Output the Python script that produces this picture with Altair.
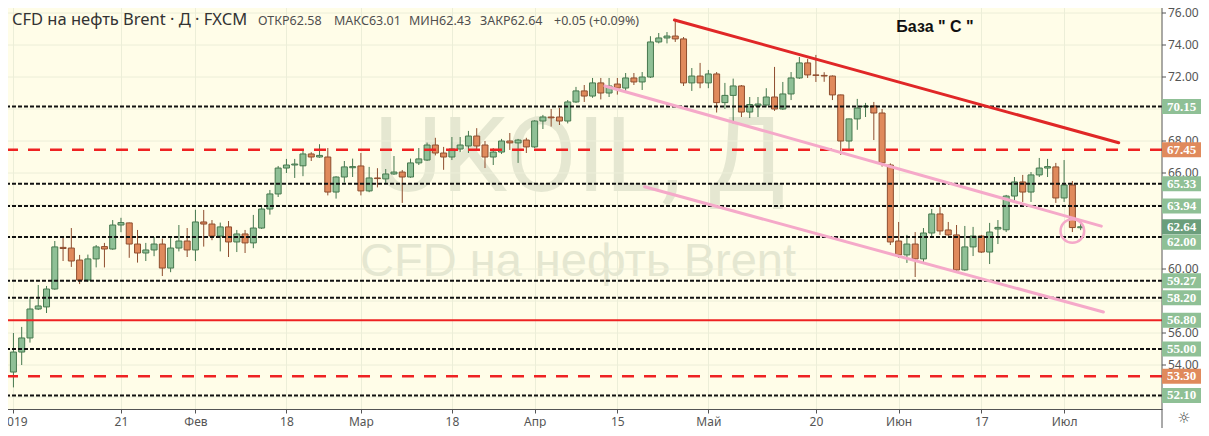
import altair as alt
import pandas as pd

# ---------------- data ----------------
opens = [53.56, 54.81, 55.69, 57.5, 57.63, 58.75, 61.35, 61.31, 60.56, 59.31, 60.63, 61.4, 61.25, 62.75, 62.88, 61.56, 61.0, 61.19, 61.56, 60.06, 61.31, 61.75,
         61.19, 62.94, 62.81, 62.06, 62.63, 61.69, 62.19, 61.63, 62.56, 63.75, 64.69, 66.31, 66.5, 66.45, 67.19, 67.0, 67.0, 64.81, 65.75, 66.33,
         66.44, 64.88, 65.69, 65.63, 65.94, 66.06, 65.75, 66.63, 66.81, 67.75, 67.25, 67.0, 67.5, 67.69, 68.31, 67.75, 67.0, 67.31, 68.0, 67.88, 68.06,
         67.63, 69.25, 69.5, 69.5, 69.25, 70.44, 71.13, 70.81, 71.63, 71.0, 71.56, 71.31, 71.94, 71.69, 72.0, 74.19, 74.44, 74.56, 74.38, 71.63, 72.06,
         71.63, 72.19, 70.4, 70.85, 71.44, 69.81, 70.19, 70.25, 70.75, 70.0, 70.94, 71.94, 72.88, 72.13, 72.1, 72.06, 70.88, 68.0, 69.38, 70.13, 70.19, 69.75, 66.5,
         61.75, 60.88, 61.56, 60.63, 62.25, 63.44, 62.44, 62.13, 59.94, 61.38, 62.06, 61.06, 62.5, 62.45, 64.56, 65.44, 64.81, 65.88, 66.31, 66.38,
         64.44, 65.25, 62.58]
highs = [56.0, 56.38, 58.25, 59.0, 58.94, 61.75, 62.0, 62.56, 60.88, 60.9, 61.5, 61.63, 63.06, 63.2, 62.9, 62.44, 61.63, 62.0, 61.9, 61.94, 62.75, 62.56,
         63.7, 63.69, 63.06, 62.9, 63.0, 62.44, 62.44, 63.38, 63.94, 64.94, 66.44, 66.88, 66.88, 67.44, 67.3, 67.8, 67.56, 65.8, 66.75, 66.9,
         67.25, 66.38, 66.3, 66.25, 67.06, 66.19, 66.9, 67.56, 67.9, 68.2, 67.63, 68.25, 68.25, 68.63, 68.8, 68.0, 67.56, 68.13, 68.5, 68.13, 68.2,
         69.3, 69.63, 70.0, 70.06, 70.56, 71.38, 71.5, 71.94, 71.94, 71.94, 71.94, 72.25, 72.25, 72.31, 74.55, 74.75, 74.81, 75.56, 74.5, 72.56, 72.88,
         72.44, 72.31, 71.63, 71.9, 71.5, 70.75, 70.75, 71.3, 72.63, 71.69, 72.31, 73.25, 73.13, 73.38, 72.3, 72.1, 70.9, 69.4, 70.63, 70.38, 70.44, 70.0, 66.6,
         62.94, 62.13, 62.31, 62.56, 63.75, 63.88, 62.94, 62.75, 62.69, 62.63, 62.13, 62.88, 63.06, 64.63, 65.75, 65.88, 66.06, 66.94, 66.88, 66.63,
         66.81, 65.5, 63.01]
lows = [52.6, 54.0, 55.4, 57.44, 57.25, 58.7, 60.5, 60.13, 59.06, 59.2, 60.1, 60.1, 61.2, 62.3, 60.7, 60.4, 60.5, 60.8, 59.56, 59.8, 61.1, 60.75,
        60.5, 61.4, 61.8, 61.1, 60.75, 61.06, 61.0, 61.3, 62.5, 63.4, 64.5, 66.0, 65.69, 65.8, 66.75, 66.95, 64.6, 64.4, 65.4, 65.75,
        64.6, 64.8, 65.1, 65.3, 65.88, 64.13, 65.7, 66.5, 66.75, 67.1, 66.2, 66.81, 67.3, 67.25, 67.5, 66.31, 66.5, 67.19, 67.44, 66.63, 67.25,
        67.56, 68.75, 68.9, 69.0, 69.1, 70.38, 70.44, 70.7, 70.6, 70.75, 70.9, 71.0, 71.5, 71.19, 71.94, 74.1, 74.1, 74.19, 71.44, 71.13, 71.3,
        71.3, 69.78, 70.0, 69.1, 69.5, 69.44, 69.5, 70.1, 69.88, 69.94, 70.56, 71.88, 71.94, 71.69, 71.7, 70.56, 67.13, 67.44, 68.7, 69.5, 68.06, 66.4, 61.5,
        60.69, 60.38, 59.5, 60.44, 61.94, 62.13, 62.06, 59.88, 59.88, 60.81, 61.0, 60.31, 61.56, 62.31, 64.25, 64.19, 64.19, 65.75, 65.75, 64.13,
        64.19, 62.31, 62.43]
closes = [54.81, 55.69, 57.5, 57.69, 58.75, 61.38, 61.28, 60.5, 59.31, 60.63, 61.38, 61.25, 62.75, 62.9, 61.56, 61.0, 61.19, 61.56, 60.06, 61.31, 61.75, 61.19,
          62.94, 62.81, 62.06, 62.63, 61.69, 62.19, 61.63, 62.56, 63.75, 64.69, 66.31, 66.5, 66.56, 67.19, 67.0, 67.1, 64.81, 65.75, 66.38, 66.4,
          64.88, 65.69, 65.65, 65.94, 66.06, 65.75, 66.63, 66.88, 67.75, 67.25, 67.0, 67.5, 67.75, 68.31, 67.69, 67.0, 67.31, 68.0, 67.88, 68.06, 67.63,
          69.25, 69.5, 69.45, 69.25, 70.44, 71.13, 70.81, 71.63, 71.0, 71.44, 71.31, 71.94, 71.69, 72.0, 74.19, 74.44, 74.56, 74.38, 71.63, 72.06, 71.63,
          72.19, 70.4, 70.85, 71.44, 69.81, 70.28, 70.31, 70.75, 70.0, 70.94, 71.94, 72.88, 72.13, 72.1, 72.06, 70.88, 68.0, 69.38, 70.06, 70.19, 69.75, 66.63, 61.69,
          60.88, 61.56, 60.63, 62.25, 63.44, 62.38, 62.13, 59.94, 61.38, 62.06, 61.06, 62.31, 62.6, 64.56, 65.44, 64.81, 65.88, 66.31, 66.4, 64.44,
          65.25, 62.59, 62.64]

tick_idx = [0, 13, 22, 33, 42, 53, 63, 73, 84, 97, 107, 117, 127]
tick_labels = ["2019", "21", "Фев", "18", "Мар", "18", "Апр", "15", "Май", "20", "Июн", "17", "Июл"]
price_ticks = [52, 54, 56, 58, 60, 62, 64, 66, 68, 70, 72, 74, 76]

level_values = [70.15, 67.45, 65.33, 63.94, 62.00, 59.27, 58.20, 56.80, 55.00, 53.30, 52.10]
level_kinds = ["dot", "dash", "dot", "dot", "dot", "dot", "dot", "solid", "dot", "dash", "dot"]
last_price = 62.64

trend_names = ["resist", "resist", "upper", "upper", "lower", "lower"]
trend_idx = [79.9, 133.6, 71.5, 131.5, 76.3, 131.75]
trend_price = [75.56, 67.89, 71.44, 62.68, 65.14, 57.31]

circle_idx = [128.0]
circle_price = [62.375]

title_text = "CFD на нефть Brent · Д · FXCM"
ohlc_items = ["ОТКР62.58", "МАКС63.01", "МИН62.43", "ЗАКР62.64", "+0.05 (+0.09%)"]
ohlc_x = [258, 334, 409, 480, 554]
note_text = "База  \" С \""
wm_big = "UKOIL, Д"
wm_small = "CFD на нефть Brent"

# ---------------- chart ----------------
W, H = 1162, 409
FONT = "Noto Sans"
AX = "#555555"
GRID = "#eceed8"
xs = alt.Scale(domain=[-1.0186, 138.23], nice=False, zero=False)
ys = alt.Scale(domain=[51.25, 76.8125], nice=False, zero=False)


def Y(field):
    return alt.Y(field, scale=ys, axis=None)


label_expr = "[" + ",".join("'%s'" % t for t in tick_labels) + "][indexof([" + ",".join(str(v) for v in tick_idx) + "], datum.value)]"

candles = pd.DataFrame({"i": list(range(len(opens))), "o": opens, "h": highs, "l": lows, "c": closes})

x_enc = alt.X("i:Q", scale=xs, axis=alt.Axis(values=tick_idx, labelExpr=label_expr, title=None,
                                               grid=True, gridColor=GRID, domainColor=AX,
                                               tickColor=AX, tickSize=4, labelColor=AX,
                                               labelFontSize=12, labelFont=FONT, labelPadding=3,
                                               labelFlush=False, labelOverlap=False))

# manual right price axis: grid, ticks, labels (labels fully hidden by a price box are skipped)
all_marks = level_values + [last_price]
hidden_expr = "min(" + ",".join("abs(datum.p - %s)" % v for v in all_marks) + ") > 0.3"
pt = alt.Chart(pd.DataFrame({"p": price_ticks}))
ygrid = pt.mark_rule(color=GRID, strokeWidth=1).encode(y=Y("p:Q"))
yticks = pt.mark_rule(color=AX, strokeWidth=1).encode(x=alt.value(1162), x2=alt.value(1166), y=Y("p:Q"))
ylabels = pt.transform_filter(hidden_expr).transform_calculate(t="format(datum.p, '.2f')").mark_text(
    align="left", baseline="middle", font=FONT, fontSize=12, color=AX).encode(
    x=alt.value(1168), y=Y("p:Q"), text="t:N")
ydomain = alt.Chart(pd.DataFrame({"a": [0]})).mark_rule(color=AX, strokeWidth=1).encode(
    x=alt.value(1162), y=alt.value(0), y2=alt.value(436))

base = alt.Chart(candles).transform_calculate(dir="datum.c >= datum.o ? 'up' : 'down'")

fill_scale = alt.Scale(domain=["up", "down"], range=["#8fc096", "#e08a5c"])
stroke_scale = alt.Scale(domain=["up", "down"], range=["#46784e", "#8e4d2e"])

wicks = base.mark_rule(strokeWidth=1).encode(
    x=x_enc,
    y=Y("l:Q"),
    y2="h:Q",
    stroke=alt.Stroke("dir:N", scale=stroke_scale, legend=None),
)
bodies = base.mark_bar(size=6, strokeWidth=1).encode(
    x="i:Q",
    y=Y("o:Q"),
    y2="c:Q",
    fill=alt.Fill("dir:N", scale=fill_scale, legend=None),
    stroke=alt.Stroke("dir:N", scale=stroke_scale, legend=None),
)

wm = alt.Chart(pd.DataFrame({"t": [wm_big, wm_small], "s": ["big", "small"]}))
wm1 = wm.transform_filter("datum.s == 'big'").mark_text(
    font="Roboto", fontSize=104, color="#e5e7d1", align="center", baseline="middle"
).encode(x=alt.value(580), y=alt.value(160), text="t:N")
wm2 = wm.transform_filter("datum.s == 'small'").mark_text(
    font="Liberation Sans", fontSize=47, color="#e5e7d1", align="center", baseline="middle"
).encode(x=alt.value(578), y=alt.value(262), text="t:N")

levels = pd.DataFrame({"p": level_values, "k": level_kinds})
lv = alt.Chart(levels)
dots = lv.transform_filter("datum.k == 'dot'").mark_rule(color="#111111", strokeWidth=2, strokeDash=[4, 2]).encode(
    y=Y("p:Q"))
dashes = lv.transform_filter("datum.k == 'dash'").mark_rule(color="#ee2222", strokeWidth=2.5, strokeDash=[12, 10]).encode(
    y=Y("p:Q"))
solid = lv.transform_filter("datum.k == 'solid'").mark_rule(color="#ee2222", strokeWidth=2).encode(
    y=Y("p:Q"))

trends = pd.DataFrame({"n": trend_names, "i": trend_idx, "p": trend_price})
trend_lines = alt.Chart(trends).mark_line(strokeWidth=3, strokeCap="round").encode(
    x=alt.X("i:Q", scale=xs),
    y=Y("p:Q"),
    detail="n:N",
    color=alt.Color("n:N", scale=alt.Scale(domain=["resist", "upper", "lower"],
                                            range=["#e02727", "#f5a9c9", "#f5a9c9"]), legend=None),
)

circ = alt.Chart(pd.DataFrame({"i": circle_idx, "p": circle_price})).mark_point(
    shape="circle", size=560, filled=False, stroke="#f5a9c9", strokeWidth=2.5, opacity=1
).encode(x=alt.X("i:Q", scale=xs), y=Y("p:Q"))

# price label boxes on the right axis (a box that collides with the last-price box is pushed down)
box_df = pd.DataFrame({"p": level_values + [last_price], "k": level_kinds + ["last"],
                       "t": ["%.2f" % v for v in level_values] + ["%.2f" % last_price]})
box_base = alt.Chart(box_df).transform_calculate(
    lp=str(last_price)
).transform_calculate(
    c="datum.k != 'last' && abs(datum.p - datum.lp) < 0.96 ? datum.lp - 0.96 : datum.p"
).transform_calculate(top="datum.c + 0.47", bot="datum.c - 0.47")
box_color = alt.Scale(domain=["dot", "dash", "solid", "last"], range=["#000000", "#ff1a1a", "#ff1a1a", "#6b9e7c"])
others = box_base.transform_filter("datum.k != 'last'")
boxes = others.mark_rect().encode(
    x=alt.value(1162), x2=alt.value(1208),
    y=Y("top:Q"), y2="bot:Q",
    fill=alt.Fill("k:N", scale=box_color, legend=None),
)
box_text = others.mark_text(align="left", baseline="middle", font="Liberation Serif", fontSize=13,
                            fontWeight="bold", color="white").encode(
    x=alt.value(1167), y=Y("c:Q"), text="t:N")

last_only = box_base.transform_filter("datum.k == 'last'")
last_box = last_only.mark_rect(fill="#6b9e7c").encode(
    x=alt.value(1162), x2=alt.value(1208), y=Y("top:Q"), y2="bot:Q")
last_txt = last_only.mark_text(align="left", baseline="middle", font="Liberation Serif", fontSize=13,
                               fontWeight="bold", color="white").encode(
    x=alt.value(1167), y=Y("c:Q"), text="t:N")

texts = pd.DataFrame({"t": [title_text, note_text, "☼"], "r": ["title", "note", "gear"]})
tx = alt.Chart(texts)
title = tx.transform_filter("datum.r == 'title'").mark_text(
    align="left", baseline="middle", font=FONT, fontSize=16.5, color="#333333").encode(
    x=alt.value(12), y=alt.value(20), text="t:N")
ohlc = alt.Chart(pd.DataFrame({"t": ohlc_items, "x": ohlc_x})).mark_text(
    align="left", baseline="middle", font=FONT, fontSize=12.5, color="#4f4f4f").encode(
    x=alt.X("x:Q", scale=None), y=alt.value(21), text="t:N")
note = tx.transform_filter("datum.r == 'note'").mark_text(
    align="center", baseline="middle", font="Liberation Sans", fontSize=16, fontWeight="bold", color="#111111").encode(
    x=alt.value(935), y=alt.value(27), text="t:N")
gear = tx.transform_filter("datum.r == 'gear'").mark_text(
    align="center", baseline="middle", font="DejaVu Sans", fontSize=15, color="#444444").encode(
    x=alt.value(1184), y=alt.value(418), text="t:N")

chart = alt.layer(
    wm1, wm2, ygrid, wicks, bodies, dots, dashes, solid, trend_lines, circ,
    yticks, ylabels, ydomain,
    boxes, last_box, box_text, last_txt, title, ohlc, note, gear
).properties(
    width=W, height=H,
    padding={"left": -8, "top": -8, "right": 39, "bottom": 19},
    autosize=alt.AutoSizeParams(type="none"),
    background="#ffffff",
).configure_view(fill="#fffde8", stroke=None)

chart.save("out.html", embed_options={"renderer": "svg", "actions": False})
